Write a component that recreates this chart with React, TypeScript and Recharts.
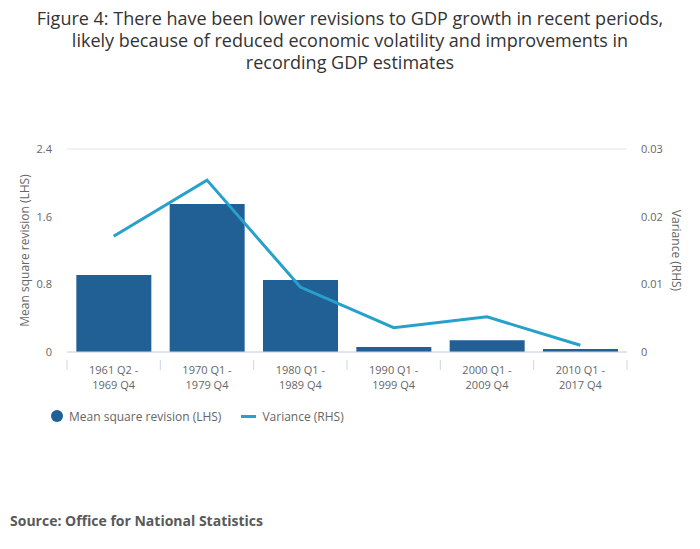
import { ComposedChart, Bar, Line, XAxis, YAxis, CartesianGrid } from "recharts";

const periods = [
  "1961 Q2 - 1969 Q4",
  "1970 Q1 - 1979 Q4",
  "1980 Q1 - 1989 Q4",
  "1990 Q1 - 1999 Q4",
  "2000 Q1 - 2009 Q4",
  "2010 Q1 - 2017 Q4",
];
const meanSquareRevision = [0.91, 1.75, 0.85, 0.06, 0.14, 0.035];
const variance = [0.0171, 0.0254, 0.0096, 0.0036, 0.0052, 0.001];
const leftTicks = [0, 0.8, 1.6, 2.4];
const rightTicks = [0, 0.01, 0.02, 0.03];

const chartData = periods.map((period, i) => ({
  period,
  msr: meanSquareRevision[i],
  variance: variance[i],
}));

const FONT = '"Open Sans", sans-serif';
const PLOT_LEFT = 67;
const PLOT_RIGHT = 627;
const HALF_BAND = (PLOT_RIGHT - PLOT_LEFT) / periods.length / 2;

const CategoryTick = (props: any) => {
  const { x, y, payload, index } = props;
  const [first, second] = String(payload.value).split(" - ");
  return (
    <g>
      <line x1={x - HALF_BAND} x2={x - HALF_BAND} y1={y} y2={y + 10} stroke="#ccd6eb" />
      {index === periods.length - 1 && (
        <line x1={x + HALF_BAND} x2={x + HALF_BAND} y1={y} y2={y + 10} stroke="#ccd6eb" />
      )}
      <text x={x} y={y + 14} textAnchor="middle" fill="#666" fontSize={11} fontFamily={FONT}>
        <tspan x={x}>{first} -</tspan>
        <tspan x={x} dy={15}>{second}</tspan>
      </text>
    </g>
  );
};

const LeftTitle = (props: any) => {
  const { x, y, height } = props.viewBox;
  const cx = x + 7;
  const cy = y + height / 2;
  return (
    <text x={cx} y={cy} transform={`rotate(-90 ${cx} ${cy})`} textAnchor="middle" dominantBaseline="central" fill="#666" fontSize={12} fontFamily={FONT}>
      Mean square revision (LHS)
    </text>
  );
};

const RightTitle = (props: any) => {
  const { x, y, height } = props.viewBox;
  const cx = x + 49;
  const cy = y + height / 2;
  return (
    <text x={cx} y={cy} transform={`rotate(90 ${cx} ${cy})`} textAnchor="middle" dominantBaseline="central" fill="#666" fontSize={12} fontFamily={FONT}>
      Variance (RHS)
    </text>
  );
};

export default function App() {
  return (
    <div style={{ position: "absolute", left: 0, top: 0, width: 700, height: 549, background: "#fff", fontFamily: FONT }}>
      <div style={{ position: "absolute", top: 7, left: 0, width: 700, textAlign: "center", fontSize: 18, lineHeight: "22px", color: "#333" }}>
        Figure 4: There have been lower revisions to GDP growth in recent periods,
        <br />
        likely because of reduced economic volatility and improvements in
        <br />
        recording GDP estimates
      </div>

      <div style={{ position: "absolute", top: 0, left: 0 }}>
        <ComposedChart
          width={700}
          height={400}
          data={chartData}
          margin={{ top: 149, right: 23, bottom: 8, left: 17 }}
          barCategoryGap="10%"
        >
          <CartesianGrid vertical={false} stroke="#e6e6e6" />
          <XAxis
            dataKey="period"
            interval={0}
            height={40}
            axisLine={{ stroke: "#ccd6eb" }}
            tickLine={false}
            tick={<CategoryTick />}
          />
          <YAxis
            yAxisId="left"
            width={50}
            domain={[0, 2.4]}
            ticks={leftTicks}
            axisLine={false}
            tickLine={false}
            tickSize={0}
            tickMargin={15}
            tick={{ fill: "#666", fontSize: 11, fontFamily: FONT }}
            label={<LeftTitle />}
          />
          <YAxis
            yAxisId="right"
            orientation="right"
            width={50}
            domain={[0, 0.03]}
            ticks={rightTicks}
            axisLine={false}
            tickLine={false}
            tickSize={0}
            tickMargin={14}
            tick={{ fill: "#666", fontSize: 11, fontFamily: FONT }}
            label={<RightTitle />}
          />
          <Bar yAxisId="left" dataKey="msr" fill="#206095" isAnimationActive={false} />
          <Line
            yAxisId="right"
            type="linear"
            dataKey="variance"
            stroke="#27a0cc"
            strokeWidth={3}
            dot={false}
            activeDot={false}
            isAnimationActive={false}
          />
        </ComposedChart>
      </div>

      <div style={{ position: "absolute", top: 407, left: 51, display: "flex", alignItems: "center", fontSize: 12, color: "#666", height: 18 }}>
        <span style={{ display: "inline-block", width: 12, height: 12, borderRadius: 6, background: "#206095", marginRight: 6 }} />
        <span>Mean square revision (LHS)</span>
        <span style={{ display: "inline-block", width: 15, height: 3, background: "#27a0cc", marginLeft: 20, marginRight: 6 }} />
        <span>Variance (RHS)</span>
      </div>

      <div style={{ position: "absolute", top: 511, left: 10, fontSize: 14, fontWeight: 700, color: "#595959" }}>
        Source: Office for National Statistics
      </div>
    </div>
  );
}
